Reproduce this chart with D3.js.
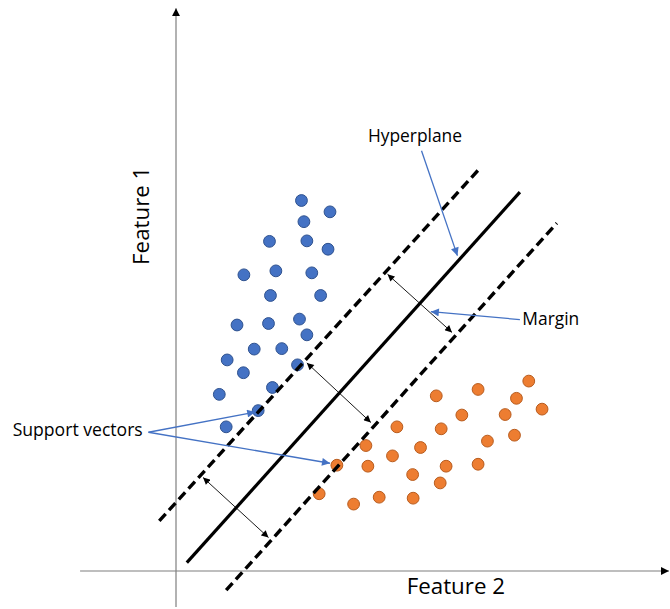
<!DOCTYPE html>
<html>
<head>
<meta charset="utf-8">
<script src="https://cdn.jsdelivr.net/npm/d3@7"></script>
<style>
  html, body { margin: 0; padding: 0; background: #fff; }
  svg { display: block; }
  text { font-family: "Open Sans", sans-serif; fill: #000; }
</style>
</head>
<body>
<svg id="chart" width="670" height="609"></svg>
<script>
// ---- Data (arbitrary feature units, origin at axis crossing) ----
const blueX = [25.5, 31.3, 26.0, 19.0, 26.6, 30.9, 13.8, 20.3, 27.6, 19.2, 29.4, 12.4, 18.8, 25.1, 26.6, 15.9, 21.5, 10.4, 13.7, 24.7, 19.6, 8.8, 16.7, 10.2];
const blueY = [75.3, 73.0, 71.0, 67.0, 67.1, 65.4, 60.2, 61.0, 60.6, 56.0, 56.0, 50.0, 50.3, 51.2, 48.0, 45.1, 45.2, 42.9, 40.3, 41.9, 37.3, 35.9, 32.6, 29.3];
const orangeX = [71.7, 61.4, 52.9, 69.2, 74.4, 66.9, 58.1, 44.9, 53.9, 68.8, 63.3, 38.6, 49.7, 44.0, 32.7, 39.0, 54.9, 61.4, 48.1, 53.7, 29.1, 41.3, 48.2, 36.1];
const orangeY = [38.6, 36.9, 35.6, 35.1, 32.9, 31.8, 31.7, 29.3, 28.9, 27.6, 26.4, 25.5, 25.1, 23.4, 21.5, 21.3, 21.3, 21.7, 19.6, 17.9, 15.7, 15.0, 14.8, 13.6];

// separating lines: [x1, y1, x2, y2]
const hyperplane = [2.2, 1.7, 69.9, 77.0];
const marginUpper = [-3.4, 10.2, 61.8, 81.9];
const marginLower = [10.2, -3.9, 77.4, 70.7];

// margin double arrows: [x1, y1, x2, y2]
const marginArrows = [
  [43.0, 60.3, 56.1, 48.5],
  [26.6, 42.3, 39.6, 30.2],
  [5.5, 19.0, 18.8, 6.8]
];

// axis extents
const xAxisExtent = [-19.5, 100.2];
const yAxisExtent = [-7.3, 114.4];

// annotation labels
const labels = ["Hyperplane", "Margin", "Support vectors", "Feature 1", "Feature 2"];

// ---- Scales ----
const svg = d3.select("#chart");
const x = d3.scaleLinear().domain([0, 100]).range([176, 668]);
const y = d3.scaleLinear().domain([0, 100]).range([571, 79]);

const defs = svg.append("defs");
defs.append("marker").attr("id", "axisHead")
  .attr("viewBox", "0 0 10 10").attr("refX", 10).attr("refY", 5)
  .attr("markerWidth", 8).attr("markerHeight", 8).attr("markerUnits", "userSpaceOnUse")
  .attr("orient", "auto")
  .append("path").attr("d", "M0,0 L10,5 L0,10 z").attr("fill", "#000");
defs.append("marker").attr("id", "blackHead")
  .attr("viewBox", "0 0 10 10").attr("refX", 10).attr("refY", 5)
  .attr("markerWidth", 8).attr("markerHeight", 7).attr("markerUnits", "userSpaceOnUse")
  .attr("orient", "auto-start-reverse")
  .append("path").attr("d", "M0,0 L10,5 L0,10 z").attr("fill", "#000");
defs.append("marker").attr("id", "blueHead")
  .attr("viewBox", "0 0 10 10").attr("refX", 10).attr("refY", 5)
  .attr("markerWidth", 10).attr("markerHeight", 8).attr("markerUnits", "userSpaceOnUse")
  .attr("orient", "auto")
  .append("path").attr("d", "M0,0 L10,5 L0,10 z").attr("fill", "#4472C4");

// ---- Axes ----
svg.append("line")
  .attr("x1", x(xAxisExtent[0])).attr("y1", y(0))
  .attr("x2", x(xAxisExtent[1])).attr("y2", y(0))
  .attr("stroke", "#7f7f7f").attr("stroke-width", 1.2)
  .attr("marker-end", "url(#axisHead)");
svg.append("line")
  .attr("x1", x(0)).attr("y1", y(yAxisExtent[0]))
  .attr("x2", x(0)).attr("y2", y(yAxisExtent[1]))
  .attr("stroke", "#7f7f7f").attr("stroke-width", 1.2)
  .attr("marker-end", "url(#axisHead)");

// ---- Points ----
const blue = blueX.map((v, i) => ({ x: v, y: blueY[i] }));
const orange = orangeX.map((v, i) => ({ x: v, y: orangeY[i] }));

svg.append("g").selectAll("circle").data(blue).join("circle")
  .attr("cx", d => x(d.x)).attr("cy", d => y(d.y)).attr("r", 5.9)
  .attr("fill", "#4472C4").attr("stroke", "#2F528F").attr("stroke-width", 1);
svg.append("g").selectAll("circle").data(orange).join("circle")
  .attr("cx", d => x(d.x)).attr("cy", d => y(d.y)).attr("r", 5.9)
  .attr("fill", "#ED7D31").attr("stroke", "#B85C1E").attr("stroke-width", 1);

// ---- Lines ----
function seg(l) {
  return svg.append("line")
    .attr("x1", x(l[0])).attr("y1", y(l[1]))
    .attr("x2", x(l[2])).attr("y2", y(l[3]));
}
seg(hyperplane).attr("stroke", "#000").attr("stroke-width", 3.2);
seg(marginUpper).attr("stroke", "#000").attr("stroke-width", 3.4).attr("stroke-dasharray", "9.5,5");
seg(marginLower).attr("stroke", "#000").attr("stroke-width", 3.4).attr("stroke-dasharray", "9.5,5");

marginArrows.forEach(a => {
  seg(a).attr("stroke", "#000").attr("stroke-width", 0.9)
    .attr("marker-start", "url(#blackHead)").attr("marker-end", "url(#blackHead)");
});

// ---- Callouts ----
function callout(x1, y1, x2, y2) {
  svg.append("line")
    .attr("x1", x(x1)).attr("y1", y(y1)).attr("x2", x(x2)).attr("y2", y(y2))
    .attr("stroke", "#4472C4").attr("stroke-width", 1.3)
    .attr("marker-end", "url(#blueHead)");
}
callout(49.9, 85.4, 57.2, 64.1);   // Hyperplane
callout(69.9, 51.1, 51.8, 52.7);   // Margin
callout(-5.6, 28.2, 16.1, 32.3);   // support vector (blue)
callout(-5.6, 28.2, 31.3, 21.9);   // support vector (orange)

// ---- Text ----
svg.append("text").attr("x", x(39.0)).attr("y", y(87.1))
  .attr("font-size", 17.4).text(labels[0]);
svg.append("text").attr("x", x(70.4)).attr("y", y(50.1))
  .attr("font-size", 17.4).text(labels[1]);
svg.append("text").attr("x", x(-33.2)).attr("y", y(27.4))
  .attr("font-size", 17.6).text(labels[2]);
svg.append("text")
  .attr("transform", `translate(${x(-5.5)},${y(72.2)}) rotate(-90)`)
  .attr("text-anchor", "middle").attr("font-size", 22.3).text(labels[3]);
svg.append("text").attr("x", x(46.9)).attr("y", y(-4.7))
  .attr("font-size", 22.3).text(labels[4]);
</script>
</body>
</html>
